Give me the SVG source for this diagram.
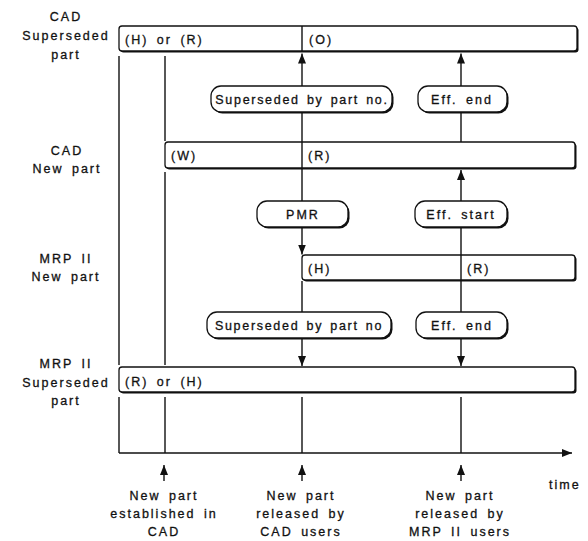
<svg xmlns="http://www.w3.org/2000/svg" width="588" height="541" viewBox="0 0 588 541">
  <defs>
    <marker id="arrow" viewBox="0 0 10 8" refX="10" refY="4" markerWidth="10" markerHeight="8" markerUnits="userSpaceOnUse" orient="auto">
      <path d="M0,0 L10,4 L0,8 z" fill="#111"/>
    </marker>
  </defs>
  <style>
    text { font-family: "Liberation Sans", Arial, Helvetica, sans-serif; font-size: 12.5px; letter-spacing: 2px; word-spacing: 3px; fill: #111; stroke: #111; stroke-width: 0.3px; }
    .mid { text-anchor: middle; }
    .tight { letter-spacing: 1.7px; word-spacing: 2px; }
    .shadow { fill: #111; }
    .box { fill: #fff; stroke: #111; stroke-width: 1.3; }
    .line { stroke: #111; stroke-width: 1.4; fill: none; }
    .arr { marker-end: url(#arrow); }
  </style>
  <rect width="588" height="541" fill="#fff"/>

  <!-- connectors: time lines, event links and the time axis -->
  <g id="connectors">
    <path class="line" d="M119,56 V365 M119,397 V453"/>
    <path class="line" d="M165,56 V141 M165,172 V365 M165,397 V453"/>
    <path class="line" d="M302,112 V142 M302,168 V201 M302,281 V312 M302,397 V453"/>
    <path class="line arr" d="M302,86 V53.5"/>
    <path class="line arr" d="M302,227 V254.5"/>
    <path class="line arr" d="M302,338 V366"/>
    <path class="line" d="M461,112 V142 M461,227 V255 M461,281 V312 M461,397 V453"/>
    <path class="line arr" d="M461,86 V53.5"/>
    <path class="line arr" d="M461,201 V170"/>
    <path class="line arr" d="M461,338 V366"/>
    <path id="time-axis" class="line arr" d="M119,453 H572"/>
    <path class="line arr" d="M164,481 V465"/>
    <path class="line arr" d="M302,481 V465"/>
    <path class="line arr" d="M461,481 V465"/>
  </g>

  <!-- row labels -->
  <g id="label-cad-superseded">
    <text class="mid" x="66" y="21">CAD</text>
    <text class="mid" x="66" y="40">Superseded</text>
    <text class="mid" x="66" y="59">part</text>
  </g>
  <g id="label-cad-new">
    <text class="mid" x="67" y="155">CAD</text>
    <text class="mid" x="67" y="173">New part</text>
  </g>
  <g id="label-mrp-new">
    <text class="mid" x="66" y="263">MRP II</text>
    <text class="mid" x="66" y="281">New part</text>
  </g>
  <g id="label-mrp-superseded">
    <text class="mid" x="66" y="368">MRP II</text>
    <text class="mid" x="66" y="387">Superseded</text>
    <text class="mid" x="66" y="405">part</text>
  </g>

  <!-- status bars -->
  <g id="bar-cad-superseded">
    <rect class="shadow" x="120.5" y="27.5" width="458" height="25" rx="3"/>
    <rect class="box" x="119" y="26" width="458" height="25" rx="3"/>
    <path class="line" d="M302,26 V51"/>
    <text x="125" y="44">(H) or (R)</text>
    <text x="309" y="44">(O)</text>
  </g>
  <g id="bar-cad-new">
    <rect class="shadow" x="166.5" y="143.5" width="410" height="26" rx="3"/>
    <rect class="box" x="165" y="142" width="410" height="26" rx="3"/>
    <path class="line" d="M302,142 V168"/>
    <text x="171" y="160">(W)</text>
    <text x="308" y="160">(R)</text>
  </g>
  <g id="bar-mrp-new">
    <rect class="shadow" x="303.5" y="256.5" width="273" height="25" rx="3"/>
    <rect class="box" x="302" y="255" width="273" height="25" rx="3"/>
    <path class="line" d="M461,255 V280"/>
    <text x="308" y="273">(H)</text>
    <text x="467" y="273">(R)</text>
  </g>
  <g id="bar-mrp-superseded">
    <rect class="shadow" x="120.5" y="368.5" width="456" height="25" rx="3"/>
    <rect class="box" x="119" y="367" width="456" height="25" rx="3"/>
    <text x="125" y="386">(R) or (H)</text>
  </g>

  <!-- event boxes -->
  <g id="evt-superseded-cad">
    <rect class="shadow" x="212.5" y="87.5" width="181" height="26" rx="10"/>
    <rect class="box" x="211" y="86" width="181" height="26" rx="10"/>
    <text class="mid tight" x="302" y="103.5">Superseded by part no.</text>
  </g>
  <g id="evt-eff-end-cad">
    <rect class="shadow" x="419.5" y="87.5" width="89" height="26" rx="10"/>
    <rect class="box" x="418" y="86" width="89" height="26" rx="10"/>
    <text class="mid" x="462" y="103.5">Eff. end</text>
  </g>
  <g id="evt-pmr">
    <rect class="shadow" x="258.5" y="202.5" width="91" height="26" rx="10"/>
    <rect class="box" x="257" y="201" width="91" height="26" rx="10"/>
    <text class="mid" x="303" y="218.5">PMR</text>
  </g>
  <g id="evt-eff-start">
    <rect class="shadow" x="416.5" y="202.5" width="92" height="26" rx="10"/>
    <rect class="box" x="415" y="201" width="92" height="26" rx="10"/>
    <text class="mid" x="461" y="218.5">Eff. start</text>
  </g>
  <g id="evt-superseded-mrp">
    <rect class="shadow" x="208.5" y="313.5" width="184" height="26" rx="10"/>
    <rect class="box" x="207" y="312" width="184" height="26" rx="10"/>
    <text class="mid tight" x="299" y="329.5">Superseded by part no</text>
  </g>
  <g id="evt-eff-end-mrp">
    <rect class="shadow" x="417.5" y="313.5" width="91" height="26" rx="10"/>
    <rect class="box" x="416" y="312" width="91" height="26" rx="10"/>
    <text class="mid" x="462" y="329.5">Eff. end</text>
  </g>

  <!-- milestone captions under the time axis -->
  <g id="milestone-established">
    <text class="mid" x="164" y="500">New part</text>
    <text class="mid" x="164" y="518">established in</text>
    <text class="mid" x="164" y="536">CAD</text>
  </g>
  <g id="milestone-cad-release">
    <text class="mid" x="301" y="500">New part</text>
    <text class="mid" x="301" y="518">released by</text>
    <text class="mid" x="301" y="536">CAD users</text>
  </g>
  <g id="milestone-mrp-release">
    <text class="mid" x="460" y="500">New part</text>
    <text class="mid" x="460" y="518">released by</text>
    <text class="mid" x="460" y="536">MRP II users</text>
  </g>
  <text id="time-label" x="549" y="489">time</text>
</svg>
